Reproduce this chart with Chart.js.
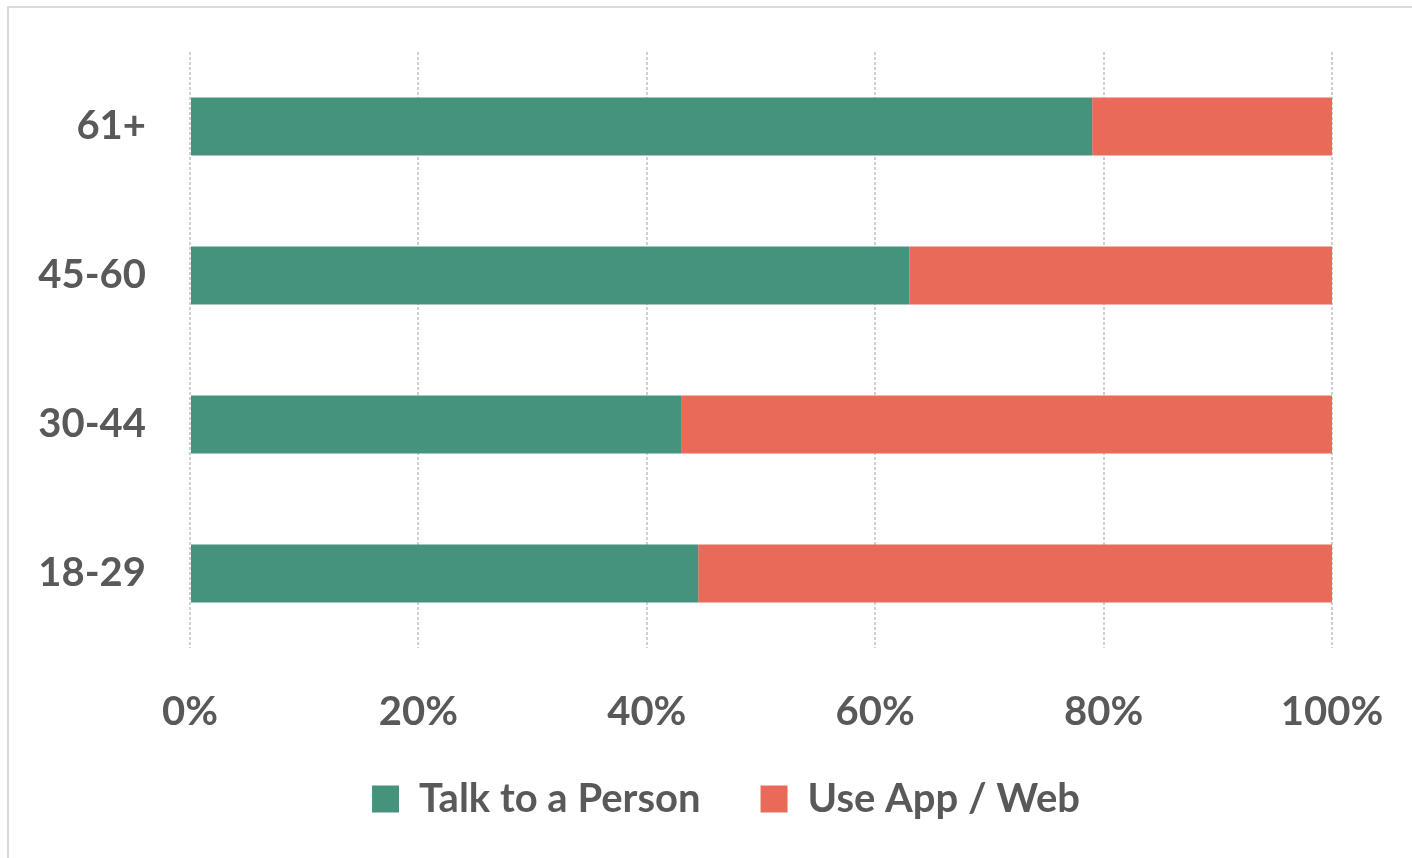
<!DOCTYPE html>
<html>
<head>
<meta charset="utf-8">
<script src="https://cdn.jsdelivr.net/npm/chart.js@4"></script>
<style>
  html, body { margin: 0; padding: 0; background: #fff; overflow: hidden; }
  #wrap { position: relative; width: 1412px; height: 858px; overflow: hidden; }
  #frame {
    position: absolute; left: 7px; top: 6px; right: -10px; bottom: -10px;
    border-top: 2px solid #d9d9d9; border-left: 2px solid #d9d9d9;
  }
  canvas { position: absolute; left: 0; top: 0; }
</style>
</head>
<body>
<div id="wrap">
  <div id="frame"></div>
  <canvas id="chart" width="1412" height="848"></canvas>
</div>
<script>
const ageGroups = ['61+', '45-60', '30-44', '18-29'];
const talkToPerson = [79, 63, 43, 44.5];
const useAppWeb = [21, 37, 57, 55.5];
const xTicks = [0, 20, 40, 60, 80, 100];

const textGrey = '#595959';
const font = { family: 'Lato', weight: 'bold', size: 40 };

// move the legend right and up a bit so it sits under the whole figure
const legendShift = {
  id: 'legendShift',
  afterLayout(chart) {
    const lg = chart.legend;
    lg.left += 50;
    lg.right += 50;
    lg.top -= 19;
    lg.bottom -= 19;
  }
};

const ctx = document.getElementById('chart').getContext('2d');
const chart = new Chart(ctx, {
  type: 'bar',
  data: {
    labels: ageGroups,
    datasets: [{
      label: 'Talk to a Person',
      data: talkToPerson,
      backgroundColor: '#46937d',
      borderWidth: 0,
      barPercentage: 0.39,
      categoryPercentage: 1
    }, {
      label: 'Use App / Web',
      data: useAppWeb,
      backgroundColor: '#e96a58',
      borderWidth: 0,
      barPercentage: 0.39,
      categoryPercentage: 1
    }]
  },
  options: {
    indexAxis: 'y',
    responsive: false,
    animation: false,
    layout: { padding: { top: 52, left: 20, right: 80, bottom: 0 } },
    scales: {
      x: {
        stacked: true,
        min: 0,
        max: 100,
        afterBuildTicks: scale => { scale.ticks = xTicks.map(v => ({ value: v })); },
        afterFit: scale => {
          scale.height = 90;
          scale.paddingLeft = 0;
          scale.paddingRight = 0;
        },
        ticks: {
          color: textGrey,
          font: font,
          padding: 40,
          callback: v => v + '%'
        },
        grid: {
          color: '#d0d0d0',
          lineWidth: 2,
          drawTicks: false
        },
        border: { display: false, dash: [3, 2] }
      },
      y: {
        stacked: true,
        afterFit: scale => {
          scale.width = 170;
          scale.paddingTop = 0;
          scale.paddingBottom = 0;
        },
        ticks: {
          color: textGrey,
          font: font,
          padding: 36
        },
        grid: { display: false },
        border: { display: false }
      }
    },
    plugins: {
      tooltip: { enabled: false },
      legend: {
        position: 'bottom',
        labels: {
          color: textGrey,
          font: font,
          boxWidth: 27,
          boxHeight: 27,
          padding: 60
        }
      }
    }
  },
  plugins: [legendShift]
});
</script>
</body>
</html>
